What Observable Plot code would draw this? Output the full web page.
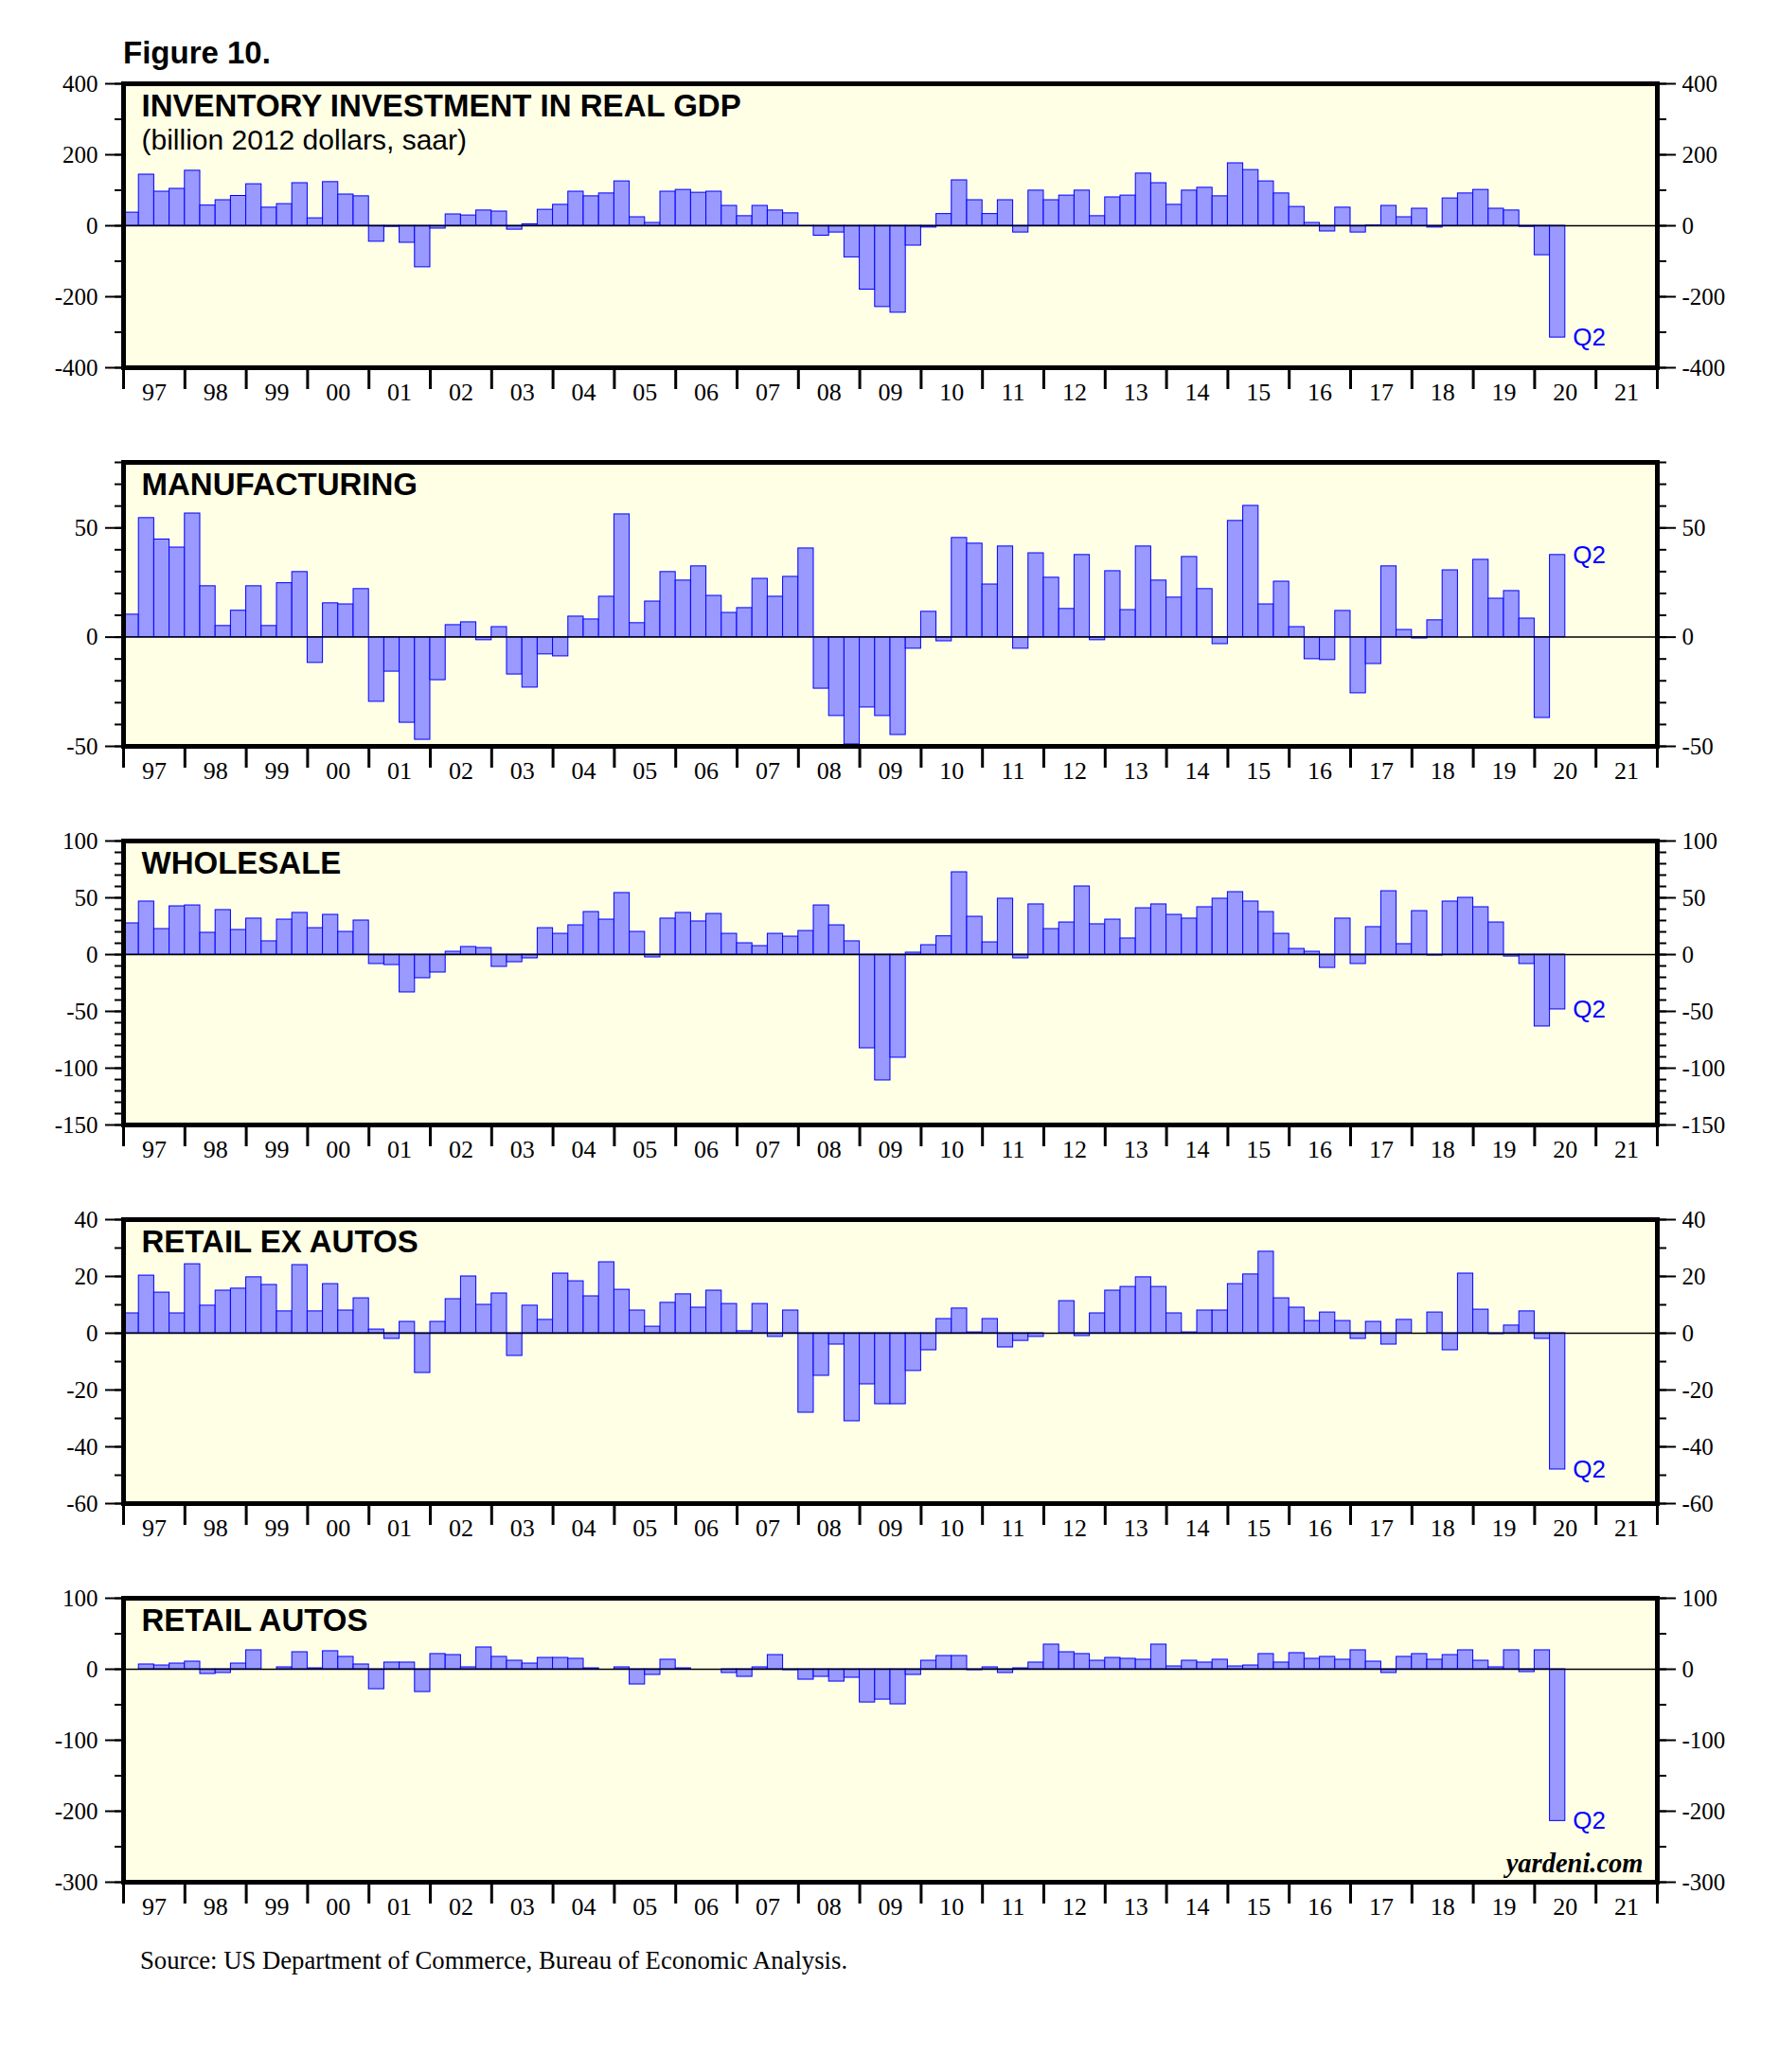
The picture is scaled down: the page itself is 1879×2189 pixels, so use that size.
<!DOCTYPE html>
<html>
<head>
<meta charset="utf-8">
<script src="https://cdn.jsdelivr.net/npm/d3@7"></script>
<script src="https://cdn.jsdelivr.net/npm/@observablehq/plot@0.6"></script>
<style>
  body { margin: 0; background: #fff; }
  #page { position: relative; width: 1879px; height: 2189px; background: #fff; overflow: hidden; }
  .abs { position: absolute; }
  #fig { left: 130px; top: 39px; font: bold 33px "Liberation Sans", Arial, sans-serif; line-height: 33px; color: #000; }
  #src { left: 148px; top: 2058px; font: 26.7px "Liberation Serif", "Times New Roman", serif; line-height: 27px; color: #000; }
</style>
</head>
<body>
<div id="page">
  <div id="fig" class="abs">Figure 10.</div>
  <div id="p1" class="abs" style="left:0;top:78px"></div>
  <div id="p2" class="abs" style="left:0;top:478px"></div>
  <div id="p3" class="abs" style="left:0;top:878px"></div>
  <div id="p4" class="abs" style="left:0;top:1278px"></div>
  <div id="p5" class="abs" style="left:0;top:1678px"></div>
  <div id="src" class="abs">Source: US Department of Commerce, Bureau of Economic Analysis.</div>
</div>
<script>
// ---- data: quarterly, 1997Q1 .. 2020Q2 (billion 2012 dollars, saar) ----
const startYear = 1997;
const yearLabels = ["97","98","99","00","01","02","03","04","05","06","07","08","09","10","11","12","13","14","15","16","17","18","19","20","21"];

const totalInventory = [
  37, 144, 96, 104,   155, 57, 72, 84,   117, 51, 61, 120,   21, 123, 88, 83,
  -45, -3, -48, -117, -8, 32, 29, 43,   40, -11, 4, 45,     59, 96, 83, 91,
  125, 24, 8, 96,     101, 93, 96, 56,  27, 56, 43, 35,     -1, -28, -19, -89,
  -180, -229, -245, -56, -5, 33, 128, 72, 33, 72, -19, 99,  72, 85, 99, 27,
  80, 85, 147, 120,   59, 99, 107, 83,  176, 157, 125, 91,  53, 8, -16, 51,
  -19, 1, 56, 24,     48, -5, 77, 91,   101, 48, 43, -3,    -83, -315
];
const manufacturing = [
  10.3, 54.5, 44.7, 41.0,  56.6, 23.3, 5.1, 12.1,  23.3, 5.1, 24.7, 29.8,  -11.8, 15.5, 15.0, 22.0,
  -29.6, -15.8, -39.2, -47.0, -19.7, 5.5, 6.8, -1.4, 4.6, -17.1, -23.1, -7.9, -8.8, 9.4, 8.1, 18.5,
  56.2, 6.4, 16.3, 29.8,   25.9, 32.4, 18.9, 11.1, 13.3, 26.7, 18.5, 27.6,  40.6, -23.6, -36.1, -49.1,
  -32.2, -36.1, -44.8, -5.3, 11.6, -1.9, 45.4, 42.8, 24.1, 41.5, -5.3, 38.4, 27.2, 12.9, 37.6, -1.4,
  30.2, 12.4, 41.5, 25.9,  18.1, 36.7, 22.0, -3.2,  53.2, 60.1, 15.0, 25.4,  4.6, -10.1, -10.5, 12.0,
  -25.7, -12.3, 32.4, 3.3, -0.6, 7.7, 30.6, 0,      35.4, 17.6, 21.1, 8.5,   -37.0, 37.6
];
const wholesale = [
  27.5, 46.7, 22.5, 42.5,  43.3, 19.2, 39.2, 21.7,  31.7, 11.7, 30.8, 36.7,  23.3, 35.0, 20.0, 30.0,
  -8.3, -9.2, -33.3, -20.8, -15.8, 2.5, 6.7, 5.8,  -10.8, -6.7, -3.3, 23.3,  18.3, 25.8, 37.5, 30.8,
  54.2, 20.0, -2.5, 31.7,  36.7, 29.2, 35.8, 18.3,  10.0, 7.5, 18.3, 15.8,   20.8, 43.3, 25.8, 11.7,
  -82.5, -110.8, -90.8, 1.7, 8.3, 16.1, 72.5, 33.3, 10.8, 49.2, -3.3, 44.2,  22.5, 28.3, 60.0, 26.7,
  30.8, 14.2, 40.8, 44.2,  35.0, 31.7, 41.7, 49.2,  55.0, 46.7, 37.5, 18.3,  5.0, 2.5, -11.7, 31.7,
  -8.3, 24.2, 55.8, 9.2,   38.3, -0.8, 46.7, 50.0,  41.7, 28.3, -1.7, -8.3,  -63.3, -48.3
];
const retailExAutos = [
  7.0, 20.3, 14.3, 7.0,    24.3, 9.7, 15.0, 15.7,   19.7, 17.0, 7.7, 24.0,   7.7, 17.3, 8.0, 12.3,
  1.3, -2.0, 4.0, -14.0,   4.0, 12.0, 20.0, 10.0,   14.0, -8.0, 9.7, 4.7,    21.0, 18.3, 13.0, 25.0,
  15.3, 8.0, 2.3, 10.7,    13.7, 9.0, 15.0, 10.3,   0.7, 10.3, -1.3, 8.0,    -28.0, -15.0, -4.0, -31.0,
  -18.0, -25.0, -25.0, -13.3, -6.0, 5.0, 8.7, 0.3, 5.0, -5.0, -2.7, -1.3,   0, 11.3, -1.0, 7.0,
  15.0, 16.3, 19.7, 16.3,  7.0, 0.3, 8.0, 8.0,      17.3, 20.7, 28.7, 12.3,  9.0, 4.3, 7.3, 4.3,
  -2.0, 4.0, -4.0, 4.7,    0, 7.3, -6.0, 21.0,      8.3, -0.3, 2.7, 7.7,     -2.0, -48.0
];
const retailAutos = [
  0, 6.7, 5.3, 8.0,        10.7, -6.7, -5.3, 8.0,   26.7, 0, 2.7, 24.0,      1.3, 25.4, 17.4, 6.7,
  -28.1, 9.4, 9.4, -32.1,  21.4, 20.0, 2.7, 30.7,   17.4, 12.0, 8.0, 16.0,   16.0, 14.7, 1.3, 0,
  2.7, -21.4, -8.0, 13.4,  1.3, 0, 0, -5.3,         -10.7, 2.7, 20.0, -1.3,  -14.7, -10.7, -17.4, -12.0,
  -46.8, -42.8, -49.4, -8.0, 12.0, 18.7, 18.7, -1.3, 2.7, -5.3, 1.3, 9.4,  34.7, 24.0, 21.4, 12.0,
  16.0, 14.7, 13.4, 34.7,  4.0, 12.0, 9.4, 13.4,    4.0, 5.3, 21.4, 9.4,     22.7, 14.7, 17.4, 13.4,
  26.7, 10.7, -5.3, 17.4,  21.4, 13.4, 20.0, 26.7,  12.0, 2.7, 26.7, -4.0,   26.7, -213.8
];

// y-axis ticks per panel
const gdpTicks = [-400, -200, 0, 200, 400];
const gdpMinor = [-400, -300, -200, -100, 0, 100, 200, 300, 400];
const mfgTicks = [-50, 0, 50];
const mfgMinor = [-50, -40, -30, -20, -10, 0, 10, 20, 30, 40, 50, 60, 70, 80];
const wsTicks = [-150, -100, -50, 0, 50, 100];
const wsMinor = [-150, -140, -130, -120, -110, -100, -90, -80, -70, -60, -50, -40, -30, -20, -10, 0, 10, 20, 30, 40, 50, 60, 70, 80, 90, 100];
const rxTicks = [-60, -40, -20, 0, 20, 40];
const rxMinor = [-60, -50, -40, -30, -20, -10, 0, 10, 20, 30, 40];
const raTicks = [-300, -200, -100, 0, 100];
const raMinor = [-300, -250, -200, -150, -100, -50, 0, 50, 100];

const titles = ["INVENTORY INVESTMENT IN REAL GDP", "MANUFACTURING", "WHOLESALE", "RETAIL EX AUTOS", "RETAIL AUTOS"];
const subtitle = "(billion 2012 dollars, saar)";
const lastLabel = "Q2";
const credit = "yardeni.com";

// ---- styling ----
const BG = "#ffffe6";
const BAR_FILL = "#9999ff";
const BAR_STROKE = "#0000ff";
const SANS = "'Liberation Sans', Arial, sans-serif";
const SERIF = "'Liberation Serif', 'Times New Roman', serif";

const yearTicks = yearLabels.map((_, i) => startYear + i).concat([startYear + yearLabels.length]);
const yearMids = yearLabels.map((_, i) => startYear + i + 0.5);

function panel(values, domain, major, minor, title, opts = {}) {
  const data = values.map((v, i) => ({t: startYear + i / 4, v}));
  const last = data[data.length - 1];
  const marks = [
    Plot.frame({fill: BG, stroke: null}),
    Plot.rectY(data, {x1: "t", x2: d => d.t + 0.25, y: "v", fill: BAR_FILL, stroke: BAR_STROKE, strokeWidth: 1}),
    Plot.ruleY([0], {stroke: "#000", strokeWidth: 1.5}),
    Plot.frame({stroke: "#000", strokeWidth: 5}),
    Plot.axisY({ticks: minor, anchor: "left", label: null, tickSize: 9, tickFormat: () => "", strokeWidth: 2}),
    Plot.axisY({ticks: major, anchor: "left", label: null, tickSize: 19, tickPadding: 8, tickFormat: d => String(d), strokeWidth: 2, fontSize: 25, fontFamily: SERIF}),
    Plot.axisY({ticks: minor, anchor: "right", label: null, tickSize: 9, tickFormat: () => "", strokeWidth: 2}),
    Plot.axisY({ticks: major, anchor: "right", label: null, tickSize: 19, tickPadding: 7, tickFormat: d => String(d), strokeWidth: 2, fontSize: 25, fontFamily: SERIF}),
    Plot.axisX({ticks: yearTicks, anchor: "bottom", label: null, tickSize: 23, tickFormat: () => "", strokeWidth: 3}),
    Plot.axisX({ticks: yearMids, anchor: "bottom", label: null, tickSize: 0, tickPadding: 16, tickFormat: d => yearLabels[Math.round(d - startYear - 0.5)], fontSize: 26, fontFamily: SERIF}),
    Plot.text([title], {text: d => d, frameAnchor: "top-left", dx: 19, dy: 34, lineAnchor: "bottom", fontFamily: SANS, fontWeight: "bold", fontSize: 33, fill: "#000"}),
    Plot.text([last], {x: d => d.t + 0.25, y: "v", text: () => lastLabel, dx: 8, textAnchor: "start", lineAnchor: "middle", fill: "#0000ff", fontFamily: SANS, fontSize: 26})
  ];
  if (opts.subtitle) {
    marks.push(Plot.text([opts.subtitle], {text: d => d, frameAnchor: "top-left", dx: 19, dy: 69, lineAnchor: "bottom", fontFamily: SANS, fontSize: 30, fill: "#000"}));
  }
  if (opts.credit) {
    marks.push(Plot.text([opts.credit], {text: d => d, frameAnchor: "bottom-right", dx: -15, dy: -11, lineAnchor: "bottom", fontFamily: SERIF, fontStyle: "italic", fontWeight: "bold", fontSize: 28.5, fill: "#000"}));
  }
  return Plot.plot({
    width: 1879,
    height: 360,
    marginTop: 10,
    marginBottom: 50,
    marginLeft: 130,
    marginRight: 129,
    x: {domain: [startYear, startYear + yearLabels.length], axis: null, label: null},
    y: {domain, axis: null, label: null},
    style: {background: "transparent", color: "#000", fontFamily: SERIF, fontSize: "25px", overflow: "visible"},
    marks
  });
}

document.getElementById("p1").append(panel(totalInventory, [-400, 400], gdpTicks, gdpMinor, titles[0], {subtitle}));
document.getElementById("p2").append(panel(manufacturing, [-50, 80], mfgTicks, mfgMinor, titles[1]));
document.getElementById("p3").append(panel(wholesale, [-150, 100], wsTicks, wsMinor, titles[2]));
document.getElementById("p4").append(panel(retailExAutos, [-60, 40], rxTicks, rxMinor, titles[3]));
document.getElementById("p5").append(panel(retailAutos, [-300, 100], raTicks, raMinor, titles[4], {credit}));
</script>
</body>
</html>
